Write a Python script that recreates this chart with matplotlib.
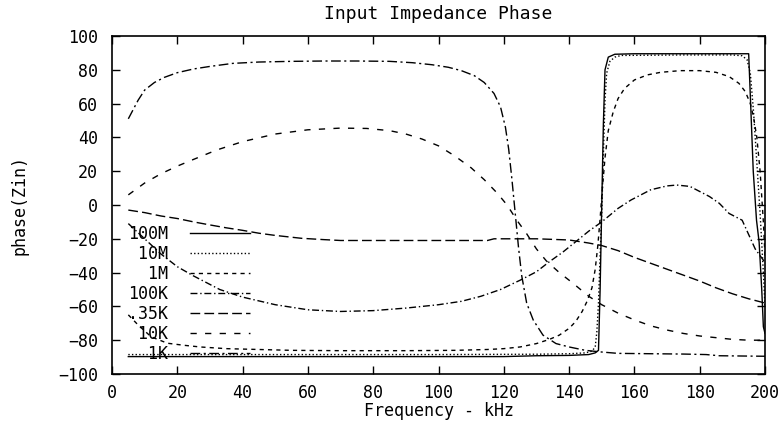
import matplotlib
matplotlib.use("Agg")
import matplotlib.pyplot as plt

plt.rcParams['font.family'] = ['DejaVu Sans Mono']
plt.rcParams['lines.scale_dashes'] = False

# phase(Zin) vs frequency (kHz), one list pair per load
f_100m = [5, 40, 80, 120, 130, 140, 146, 148, 149, 149.5, 150, 150.5, 151, 152, 154, 160,
          180, 195, 195.6, 196.4, 197.4, 198.2, 199, 199.5, 200]
p_100m = [-89.7, -89.7, -89.7, -89.7, -89.2, -89, -88.5, -87.5, -86, -50, 0, 48, 80, 87.5,
          89.2, 89.5, 89.5, 89.5, 60, 20, -9, -22, -50, -72, -76]

f_10m = [5, 30, 60, 100, 130, 140, 145, 147, 148, 148.5, 149, 149.5, 150, 150.5, 151, 151.5,
         152.5, 154, 156, 175, 190, 193, 194.5, 195.5, 196.5, 197.5, 198.5, 199.5, 200]
p_10m = [-88.5, -88.5, -88.5, -88.5, -88.3, -88, -87.5, -86.5, -84, -75, -58, -30, -5, 30,
         62, 78, 85, 87.5, 88.5, 88.8, 88.8, 88.3, 86, 78, 55, 25, -5, -40, -60]

f_1m = [5, 8, 12, 17, 22, 27, 35, 45, 55, 70, 90, 105, 115, 120, 125, 130, 134, 137, 140, 142,
        144, 145.5, 147, 148, 148.8, 149.5, 150.2, 151, 152, 153.5, 155, 157, 160, 164, 168,
        174, 180, 185, 189, 192, 194, 195.5, 196.5, 197.5, 198.5, 199.5, 200]
p_1m = [-65, -71, -78, -81.8, -83, -84, -85, -85.5, -86, -86.2, -86.2, -86, -85.5, -85, -84,
        -82, -79.5, -77, -73, -69, -63, -57, -49, -38, -24, -8, 10, 28, 44, 55, 63, 69, 74,
        77, 78.5, 79.5, 79.5, 78.5, 76, 72, 67, 60, 52, 40, 20, -10, -30]

f_100k = [5, 10, 15, 20, 25, 33, 40, 50, 60, 70, 80, 90, 100, 107, 113, 119, 125, 130, 134,
          138, 142.5, 146, 150, 155, 159, 165, 170, 173, 177, 183, 186, 189, 193, 197, 200]
p_100k = [-11, -20, -29, -36.5, -42, -50, -54.5, -59, -62, -63, -62.5, -61, -59, -57, -54,
          -50, -44.5, -39.5, -33.5, -28, -21, -15.5, -10, -2, 3, 9, 11.3, 11.8, 11, 5, 1,
          -5, -9, -26, -34]

f_35k = [5, 10, 15, 20, 25, 30, 35, 40, 45, 50, 58, 65, 70, 80, 100, 115, 117, 130, 140, 146,
         150, 155, 160, 165, 170, 175, 180, 185, 190, 195, 200]
p_35k = [-3, -4.5, -6.5, -8, -10, -11.8, -13.5, -15, -16.7, -18, -19.7, -20.5, -21, -21, -21,
         -21, -20, -20, -20.7, -22.5, -24, -27, -31, -34.5, -38, -41.5, -45, -49, -52.5,
         -55.5, -58]

f_10k = [5, 10, 15, 20, 25, 32, 40, 50, 60, 70, 78, 85, 90, 95, 100, 105, 110, 114, 118, 121,
         124, 127, 130, 133, 137, 141, 146, 150, 155, 160, 165, 170, 175, 180, 185, 190, 195,
         200]
p_10k = [6, 13, 18.5, 23, 27, 32.5, 37.5, 42, 44.5, 45.5, 45.3, 44, 42, 39, 35, 29, 22, 15,
         7, 0, -9, -17, -26, -33, -40, -46, -54, -59, -64, -68, -71.5, -74, -76, -77.5,
         -78.5, -79.5, -80, -80]

f_1k = [5, 8, 10, 13, 16, 20, 25, 30, 37, 45, 55, 65, 75, 85, 92, 98, 103, 107, 111, 114,
        117, 119, 120.5, 121.5, 122.5, 123.5, 124.5, 125.5, 127, 129, 132, 136, 140, 145,
        150, 155, 165, 175, 182, 186, 195, 200]
p_1k = [51, 62, 68, 72.5, 75.5, 78.3, 80.5, 82, 83.8, 84.6, 85, 85.2, 85.2, 85, 84.2, 83,
        81.5, 79.5, 76.5, 72.5, 66, 58, 46, 33, 15, -5, -25, -42, -58, -68, -77, -82, -84,
        -86, -87, -87.8, -88, -88.2, -88.5, -89.2, -89.4, -89.5]

labels = ['100M', ' 10M', '  1M', '100K', '.35K', ' 10K', '  1K']
styles = ['-', (0, (1, 1.6)), (0, (3, 3)), (0, (5, 2, 1, 2)), (0, (7, 3)),
          (0, (4.5, 6)), (0, (7, 2.5, 1.5, 2.5))]
series = [(f_100m, p_100m), (f_10m, p_10m), (f_1m, p_1m), (f_100k, p_100k),
          (f_35k, p_35k), (f_10k, p_10k), (f_1k, p_1k)]

fig = plt.figure(figsize=(7.84, 4.23), dpi=100)
ax = fig.add_axes([112 / 784, 49 / 423, 653 / 784, 338 / 423])

for (f, p), lab, ls in zip(series, labels, styles):
    ax.plot(f, p, color='black', linestyle=ls, linewidth=1.0, label=lab)

ax.set_xlim(0, 200)
ax.set_ylim(-100, 100)
ax.set_xticks(range(0, 201, 20))
ax.set_yticks(range(-100, 101, 20))
ax.tick_params(direction='in', length=6, width=1.0, top=True, right=True,
               labelsize=12, colors='black')
ax.tick_params(axis='x', pad=7)
ax.tick_params(axis='y', pad=10)
for s in ax.spines.values():
    s.set_linewidth(1.2)

ax.set_title('Input Impedance Phase', fontsize=13, pad=12)
ax.set_xlabel('Frequency - kHz', fontsize=12, labelpad=0)
ax.set_ylabel('phase(Zin)', fontsize=12, labelpad=21)

ax.legend(loc='upper left', bbox_to_anchor=(0.025, 0.441), frameon=False,
          markerfirst=False, fontsize=12, handlelength=3.6, handletextpad=1.3,
          labelspacing=0.12, borderpad=0, borderaxespad=0)

fig.savefig('out.png', dpi=100)
